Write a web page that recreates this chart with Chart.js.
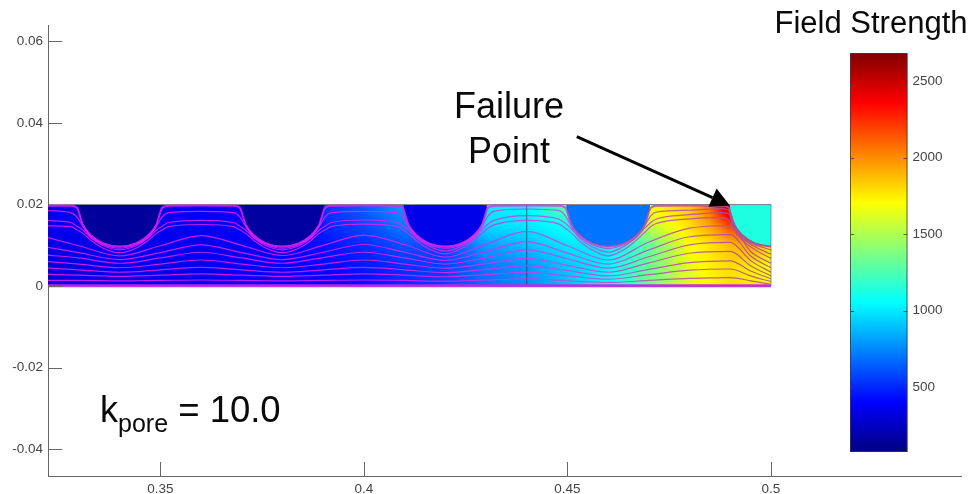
<!DOCTYPE html>
<html>
<head>
<meta charset="utf-8">
<script src="https://cdn.jsdelivr.net/npm/chart.js@4/dist/chart.umd.min.js"></script>
<style>
html,body{margin:0;padding:0;background:#fff;}
#wrap{position:relative;width:972px;height:494px;overflow:hidden;}
canvas{position:absolute;top:0;filter:blur(0.45px);}
#main{left:0;}
#bar{left:840px;}
</style>
</head>
<body>
<div id="wrap"><canvas id="main" width="972" height="494"></canvas><canvas id="bar" width="132" height="494"></canvas></div>
<script>
// ---- tick labels -----
const xTicks = [0.35, 0.4, 0.45, 0.5];
const yTicks = [-0.04, -0.02, 0, 0.02, 0.04, 0.06];
const colorTicks = [500, 1000, 1500, 2000, 2500];
const colorRange = [76, 2683];

// ---- colormap (value fraction, colour) -----
const jetFractions = [0, 0.125, 0.375, 0.625, 0.875, 1];
const jetColors = [[0,0,128],[0,0,255],[0,255,255],[255,255,0],[255,0,0],[128,0,0]];

// ---- field strength, columns in x (thousandths), rows in y (thousandths) -----
const fieldX = [322.4,330,340,350,360,370,380,390,400,410,420,430,440,450,460,470,480,485,490,495,500];
const fieldY = [0,5,10,15,20];
const fieldRow0  = [310,320,340,340,350,360,390,400,440,510,570,690,770,890,1050,1350,1620,1720,1780,1740,1700];
const fieldRow5  = [320,330,350,350,360,370,400,420,460,530,570,710,790,910,1020,1320,1650,1740,1800,1760,1700];
const fieldRow10 = [340,340,350,350,360,370,390,440,510,610,570,810,890,990,1010,1300,1700,1770,1870,1950,1800];
const fieldRow15 = [350,350,360,360,370,380,400,490,590,730,860,970,1000,1090,1210,1560,1790,1950,2200,2300,1900];
const fieldRow20 = [360,360,370,370,380,390,410,540,650,810,910,1010,1030,1350,1500,1720,1860,2100,2680,2350,1950];
const fieldRows = [fieldRow0, fieldRow5, fieldRow10, fieldRow15, fieldRow20];

// ---- pores -----
const poreX = [340, 380, 420, 460, 500];
const poreField = [150, 160, 345, 695, 1130];
const poreRadius = 10.2;

// ---- streamlines (thousandths) -----
const knotsFine = [322.4,
 328,329.5,331,333,336,340,344,347,349,350.5,352,360,
 368,369.5,371,373,376,380,384,387,389,390.5,392,400,
 408,409.5,411,413,416,420,424,427,429,430.5,432,440,
 448,449.5,451,453,456,460,464,467,469,470.5,472,480,
 488,489.5,491,493,496,500];
const knotsCoarse = [322.4,330,340,350,360,370,380,390,400,410,420,430,440,450,460,470,480,490,495,500];
const line1 = [19.7,
 19.7,19.2,15,12.4,10.5,9.7,10.5,12.4,15,19.2,19.7,19.75,
 19.7,19.2,15,12.4,10.5,9.7,10.5,12.4,15,19.2,19.7,19.75,
 19.7,19.2,15,12.4,10.5,9.7,10.5,12.4,15,19.2,19.7,19.75,
 19.7,19.2,15,12.4,10.5,9.7,10.5,12.4,15,19.2,19.7,19.75,
 19.7,19.3,15,12.4,10.5,9.7];
const line2 = [18.5,
 18.0,17.0,14.6,12.1,10.2,9.3,10.2,12.1,14.6,17.0,18.0,18.3,
 18.0,17.0,14.6,12.1,10.2,9.3,10.2,12.1,14.6,17.0,18.0,18.3,
 18.0,17.0,14.6,12.1,10.2,9.3,10.2,12.1,14.6,17.2,18.4,18.9,
 18.5,17.2,14.6,12.1,10.2,9.2,10.2,12.1,14.8,17.3,18.2,18.6,
 19.0,18.6,14.6,12.1,10.2,8.9];
const line3 = [16.06,
 15.6,14.7,13.7,11.8,9.9,8.9,9.9,11.8,13.7,14.7,15.6,16.1,
 15.6,14.7,13.7,11.8,9.9,8.9,9.9,11.8,13.7,14.7,15.6,16.2,
 15.7,14.8,13.7,11.7,9.8,8.6,9.8,11.8,13.9,15.2,16.1,17.3,
 16.4,15.4,14.0,11.7,9.7,8.3,9.8,12.0,14.2,15.6,16.5,17.5,
 18.0,17.8,14.2,11.8,9.7,7.8];
const line4 = [14.75,
 14.6,13.8,12.9,11.2,9.3,8.2,9.3,11.2,12.9,13.8,14.6,15.1,
 14.6,13.8,12.9,11.2,9.3,8.2,9.3,11.2,12.9,13.8,14.6,15.2,
 14.7,13.8,12.8,11.0,9.1,7.9,9.2,11.2,13.0,14.2,15.0,16.1,
 15.2,14.2,13.0,11.0,8.9,7.4,9.0,11.3,13.2,14.6,15.4,16.5,
 16.8,16.3,13.6,11.2,9.0,6.8];
const line5  = [11.9,9.9,7.4,9.9,12.4,10,7.5,10,12.5,10.2,7.1,10.3,13.4,9.9,6.4,10.8,14.2,14.8,8.5,5.6];
const line6  = [9.5,8.2,6.5,8.2,10.1,8.2,6.5,8.3,10.2,8.3,6.3,8.5,10.9,8.1,5.4,8.9,12.1,12.6,7.4,4.5];
const line7  = [7.6,6.9,5.6,6.9,8.3,6.9,5.6,7.0,8.3,6.9,5.4,7.0,8.9,6.7,4.4,7.2,10.1,10.7,6.25,3.4];
const line8  = [6.0,5.4,4.5,5.4,6.4,5.4,4.5,5.4,6.4,5.4,4.4,5.5,6.8,5.1,3.4,5.7,8.05,8.5,5.0,2.5];
const line9  = [4.4,4.0,3.4,4.0,4.6,4.0,3.4,4.0,4.6,4.0,3.3,4.1,5.0,3.8,2.5,4.1,5.75,6.2,3.7,1.8];
const line10 = [2.9,2.7,2.4,2.7,3.0,2.7,2.4,2.7,3.0,2.7,2.3,2.8,3.4,2.5,1.7,2.8,3.9,4.2,2.5,1.1];
const line11 = [1.4,1.4,1.3,1.4,1.5,1.4,1.3,1.4,1.5,1.4,1.2,1.5,1.8,1.3,0.9,1.4,1.9,2.1,1.3,0.45];
const line12 = [0.1,0.1];
const bottomEdgeX = [322.4,500];
const fineLines = [line1,line2,line3,line4];
const coarseLines = [line5,line6,line7,line8,line9,line10,line11];

// ---- frame lines and arrow (thousandths) -----
const topEdgeX = [322.4,500];
const topEdgeY = [20,20];
const seamX = [440,440];
const seamY = [0,20];
const rightEdgeX = [500,500];
const rightEdgeY = [0,20];
const arrowX = [452.3, 489.9];
const arrowY = [36.64, 19.78];

// ---- texts -----
const colorTitle = 'Field Strength';
const calloutLines = ['Failure', 'Point'];
const labelK = 'k', labelSub = 'pore', labelRest = ' = 10.0';

const FONT = '"Liberation Sans", Arial, sans-serif';
const k = v => v / 1000;
const toPts = (xs, ys) => xs.map((x, i) => ({x: k(x), y: k(ys[i])}));

function jet(v){
  let t = (v - colorRange[0]) / (colorRange[1] - colorRange[0]);
  t = Math.max(0, Math.min(1, t));
  let i = 0;
  while (i < jetFractions.length - 2 && t > jetFractions[i + 1]) i++;
  const f = (t - jetFractions[i]) / (jetFractions[i + 1] - jetFractions[i]);
  const a = jetColors[i], b = jetColors[i + 1];
  return 'rgb(' + a.map((c, n) => Math.round(c + (b[n] - c) * f)).join(',') + ')';
}
function locate(arr, v){
  let i = 0;
  while (i < arr.length - 2 && v > arr[i + 1]) i++;
  return [i, Math.max(0, Math.min(1, (v - arr[i]) / (arr[i + 1] - arr[i])))];
}
function fieldAt(xv, yv){
  const [i, fx] = locate(fieldX, xv);
  const [j, fy] = locate(fieldY, yv);
  const lo = fieldRows[j][i] + (fieldRows[j][i + 1] - fieldRows[j][i]) * fx;
  const hi = fieldRows[j + 1][i] + (fieldRows[j + 1][i + 1] - fieldRows[j + 1][i]) * fx;
  return lo + (hi - lo) * fy;
}

// lines read bright magenta over the blue part and muted mauve over the yellow part
function streamColor(c){
  const ch = c.chart, s = ch.scales && ch.scales.x;
  if (!s || !ch.chartArea) return 'rgba(225,30,235,0.85)';
  const g = ch.ctx.createLinearGradient(s.getPixelForValue(0.42), 0, s.getPixelForValue(0.49), 0);
  g.addColorStop(0, 'rgba(232,30,240,0.85)');
  g.addColorStop(0.45, 'rgba(205,70,215,0.85)');
  g.addColorStop(1, 'rgba(175,80,150,0.9)');
  return g;
}
const streamStyle = {showLine:true, pointRadius:0, cubicInterpolationMode:'monotone', fill:false};
const datasets = [];
fineLines.forEach((l, n) => datasets.push(Object.assign({}, streamStyle, {
  data: toPts(knotsFine, l), borderColor: streamColor, borderWidth: n === 0 ? 1.9 : 1.2})));
coarseLines.forEach(l => datasets.push(Object.assign({}, streamStyle, {
  data: toPts(knotsCoarse, l), borderColor: streamColor, borderWidth: 1.2})));
datasets.push(Object.assign({}, streamStyle, {data: toPts(bottomEdgeX, line12), borderColor:'rgba(190,40,225,0.95)', borderWidth:3}));
datasets.push({showLine:true, pointRadius:0, data: toPts(topEdgeX, topEdgeY), borderColor:'rgba(50,50,70,0.6)', borderWidth:1});
datasets.push({showLine:true, pointRadius:0, data: toPts(seamX, seamY), borderColor:'rgba(30,50,80,0.75)', borderWidth:1});
datasets.push({showLine:true, pointRadius:0, data: toPts(rightEdgeX, rightEdgeY), borderColor:'rgba(90,130,150,0.8)', borderWidth:1});

const fieldPlugin = {
  id:'field',
  beforeDatasetsDraw(chart){
    const {ctx, scales:{x, y}} = chart;
    const x0 = Math.round(x.getPixelForValue(k(fieldX[0]))), x1 = Math.round(x.getPixelForValue(k(500)));
    const y0 = Math.round(y.getPixelForValue(k(20))), y1 = Math.round(y.getPixelForValue(0));
    ctx.save();
    for (let px = x0; px < x1; px++) {
      for (let py = y0; py < y1; py++) {
        ctx.fillStyle = jet(fieldAt(x.getValueForPixel(px + 0.5) * 1000, y.getValueForPixel(py + 0.5) * 1000));
        ctx.fillRect(px, py, 1, 1);
      }
    }
    ctx.beginPath();
    ctx.rect(x0, y0, x1 - x0, y1 - y0);
    ctx.clip();
    poreX.forEach((cx, i) => {
      const pcx = x.getPixelForValue(k(cx)), pcy = y.getPixelForValue(k(20));
      const rx = x.getPixelForValue(k(cx + poreRadius)) - pcx;
      const ry = y.getPixelForValue(k(20 - poreRadius)) - pcy;
      ctx.beginPath();
      ctx.ellipse(pcx, pcy, rx, ry, 0, 0, Math.PI);
      ctx.closePath();
      ctx.fillStyle = jet(poreField[i]);
      ctx.fill();
      ctx.strokeStyle = 'rgba(20,40,80,0.45)';
      ctx.lineWidth = 1;
      ctx.stroke();
    });
    ctx.restore();
  },
  afterDraw(chart){
    const {ctx, scales:{x, y}} = chart;
    ctx.save();
    // inward ticks
    ctx.strokeStyle = '#666';
    ctx.lineWidth = 1;
    x.ticks.forEach(t => {
      const p = Math.round(x.getPixelForValue(t.value)) + 0.5;
      ctx.beginPath(); ctx.moveTo(p, y.bottom); ctx.lineTo(p, y.bottom - 14); ctx.stroke();
    });
    y.ticks.forEach(t => {
      const p = Math.round(y.getPixelForValue(t.value)) + 0.5;
      ctx.beginPath(); ctx.moveTo(x.left, p); ctx.lineTo(x.left + 14, p); ctx.stroke();
    });
    // arrow
    const ax0 = x.getPixelForValue(k(arrowX[0])), ay0 = y.getPixelForValue(k(arrowY[0]));
    const ax1 = x.getPixelForValue(k(arrowX[1])), ay1 = y.getPixelForValue(k(arrowY[1]));
    const ang = Math.atan2(ay1 - ay0, ax1 - ax0);
    const hl = 19, hw = 10;
    const bx = ax1 - hl * Math.cos(ang), by = ay1 - hl * Math.sin(ang);
    ctx.strokeStyle = '#000';
    ctx.lineWidth = 2.8;
    ctx.beginPath(); ctx.moveTo(ax0, ay0); ctx.lineTo(bx, by); ctx.stroke();
    ctx.fillStyle = '#000';
    ctx.beginPath();
    ctx.moveTo(ax1, ay1);
    ctx.lineTo(bx - hw * Math.sin(ang), by + hw * Math.cos(ang));
    ctx.lineTo(bx + hw * Math.sin(ang), by - hw * Math.cos(ang));
    ctx.closePath(); ctx.fill();
    // texts
    ctx.fillStyle = '#0a0a0a';
    ctx.textBaseline = 'alphabetic';
    ctx.textAlign = 'center';
    ctx.font = '31px ' + FONT;
    ctx.fillText(colorTitle, 871, 33);
    ctx.font = '36px ' + FONT;
    ctx.fillText(calloutLines[0], 509, 118);
    ctx.fillText(calloutLines[1], 509, 163);
    ctx.textAlign = 'left';
    ctx.font = '36px ' + FONT;
    ctx.fillText(labelK, 100, 422);
    const kw = ctx.measureText(labelK).width;
    ctx.font = '25px ' + FONT;
    ctx.fillText(labelSub, 100 + kw, 432);
    const sw = ctx.measureText(labelSub).width;
    ctx.font = '36.5px ' + FONT;
    ctx.fillText(labelRest, 100 + kw + sw, 422);
    ctx.restore();
  }
};

const tickFont = {family: FONT, size: 13.5};
const fmt = v => String(Math.round(v * 100) / 100);

new Chart(document.getElementById('main'), {
  type:'scatter',
  data:{datasets},
  plugins:[fieldPlugin],
  options:{
    responsive:false, animation:false, events:[],
    layout:{padding:{top:25, right:11, left:0, bottom:0}},
    plugins:{legend:{display:false}, tooltip:{enabled:false}},
    scales:{
      x:{type:'linear', min:0.32241, max:0.54668,
        afterFit(s){ s.height = 18; },
        afterBuildTicks(s){ s.ticks = xTicks.map(v => ({value:v})); },
        grid:{display:true, drawOnChartArea:false, drawTicks:false},
        border:{display:true, color:'#666', width:1},
        ticks:{font:tickFont, color:'#444', padding:5, maxRotation:0, autoSkip:false, callback:fmt}},
      y:{type:'linear', min:-0.04654, max:0.064,
        afterFit(s){ s.width = 48; },
        afterBuildTicks(s){ s.ticks = yTicks.map(v => ({value:v})); },
        grid:{display:true, drawOnChartArea:false, drawTicks:false},
        border:{display:true, color:'#666', width:1},
        ticks:{font:tickFont, color:'#444', padding:5, autoSkip:false, callback:fmt}}
    }
  }
});

const barTicksPlugin = {
  id:'barTicks',
  afterDraw(chart){
    const {ctx, chartArea:a, scales:{y}} = chart;
    ctx.save();
    ctx.strokeStyle = 'rgba(60,60,60,0.8)';
    ctx.lineWidth = 1;
    ctx.strokeRect(a.left + 0.5, a.top + 0.5, a.right - a.left - 1, a.bottom - a.top - 1);
    y.ticks.forEach(t => {
      const p = Math.round(y.getPixelForValue(t.value)) + 0.5;
      ctx.beginPath(); ctx.moveTo(a.left, p); ctx.lineTo(a.left + 4, p); ctx.stroke();
      ctx.beginPath(); ctx.moveTo(a.right, p); ctx.lineTo(a.right - 4, p); ctx.stroke();
    });
    ctx.restore();
  }
};

new Chart(document.getElementById('bar'), {
  type:'bar',
  data:{labels:['Field Strength'], datasets:[{
    data:[colorRange],
    barPercentage:1, categoryPercentage:1, borderWidth:0,
    backgroundColor(c){
      const a = c.chart.chartArea;
      if (!a) return '#000';
      const g = c.chart.ctx.createLinearGradient(0, a.bottom, 0, a.top);
      jetFractions.forEach((f, i) => g.addColorStop(f, 'rgb(' + jetColors[i].join(',') + ')'));
      return g;
    }
  }]},
  plugins:[barTicksPlugin],
  options:{
    responsive:false, animation:false, events:[],
    layout:{padding:{top:53, right:0, left:10, bottom:42}},
    plugins:{legend:{display:false}, tooltip:{enabled:false}},
    scales:{
      x:{display:false},
      y:{position:'right', min:colorRange[0], max:colorRange[1],
        afterFit(s){ s.width = 64.5; },
        afterBuildTicks(s){ s.ticks = colorTicks.map(v => ({value:v})); },
        grid:{display:false, drawTicks:false},
        border:{display:false},
        ticks:{font:tickFont, color:'#444', padding:5, autoSkip:false, callback:v => String(v)}}
    }
  }
});
</script>
</body>
</html>
